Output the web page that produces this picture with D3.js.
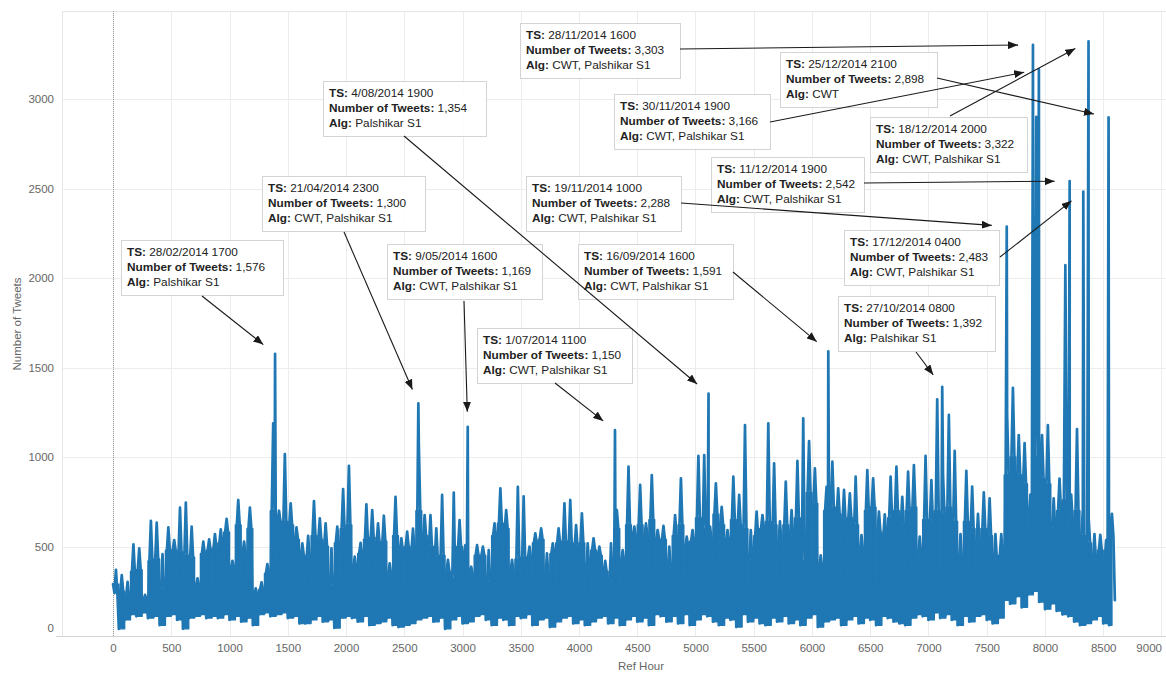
<!DOCTYPE html>
<html>
<head>
<meta charset="utf-8">
<script src="https://cdn.jsdelivr.net/npm/d3@7"></script>
<style>
body { margin: 0; background: #fff; }
svg text { font-family: "Liberation Sans", Arial, Helvetica, sans-serif; white-space: pre; }
</style>
</head>
<body>
<script>
// hourly tweet counts, read per 50-hour block:
// the lowest dip, the top of the dense daily band, and the highest spike
var blockHours = 50;
var blockHigh = [
  369,340,303,512,490,230,644,633,458,607,
  536,717,745,611,322,527,540,570,596,654,
  420,760,527,717,266,300,402,1188,700,1017,
  741,607,518,560,754,657,629,490,611,821,
  950,443,520,736,704,629,672,406,778,546,
  583,600,1073,676,676,601,788,425,801,648,
  508,387,508,499,480,629,825,704,425,834,
  780,499,574,601,462,518,601,741,760,620,
  685,518,546,499,420,518,704,480,946,611,
  844,629,899,592,615,500,676,881,555,592,
  1006,1011,611,853,722,592,890,788,1179,592,
  695,676,1188,965,640,862,704,978,1216,1089,
  937,450,834,974,825,816,797,890,564,927,
  881,695,680,890,946,778,918,955,555,1006,
  871,1322,900,1235,1034,570,923,835,682,802,
  769,570,570,1245,1387,1123,1078,790,2900,1123,
  1178,769,879,2072,790,1156,704,659,570,565,
  536,682
];
var blockTop = [
  240,250,220,360,370,200,420,430,260,480,
  480,470,450,440,280,460,480,490,520,580,
  380,620,460,600,230,260,350,700,640,640,
  620,540,450,440,560,540,500,280,520,600,
  620,380,460,540,550,520,530,340,560,480,
  500,480,700,560,500,440,450,360,320,500,
  460,340,450,450,300,560,630,600,360,430,
  440,440,520,540,330,460,520,530,520,500,
  520,380,480,450,360,300,600,420,620,560,
  620,560,650,540,540,380,560,620,500,530,
  660,600,540,680,620,530,650,620,600,420,
  560,600,640,620,520,620,560,660,420,800,
  740,380,700,720,680,650,660,620,480,700,
  720,580,560,660,700,620,700,720,450,650,
  640,700,680,720,640,420,640,600,520,600,
  560,420,450,900,1000,900,850,680,1000,880,
  850,600,700,760,650,700,560,520,420,480,
  420,560
];
var blockLow = [
  290,40,90,120,110,130,100,110,60,110,
  120,90,40,100,110,120,100,110,100,120,
  90,110,80,100,60,120,130,110,120,130,
  100,110,70,70,90,110,80,90,45,100,
  110,100,80,110,60,70,80,100,60,50,
  60,70,90,100,110,80,100,40,90,110,
  70,80,110,120,90,60,100,90,60,110,
  100,120,60,90,100,50,80,100,110,70,
  90,60,80,100,110,70,100,60,90,110,
  80,100,60,120,110,80,110,70,120,60,
  90,120,110,80,60,100,90,50,120,80,
  100,70,60,100,80,110,70,90,60,100,
  120,50,80,90,100,60,90,110,70,100,
  90,60,110,100,80,70,60,100,120,110,
  90,130,100,120,90,60,110,80,110,120,
  90,70,100,200,180,220,160,230,250,190,
  150,180,140,120,110,80,60,70,90,110,
  70,60,200
];

// detected events (annotated spikes)
var eventTS = ["28/02/2014 1700","21/04/2014 2300","9/05/2014 1600","1/07/2014 1100",
  "4/08/2014 1900","16/09/2014 1600","27/10/2014 0800","19/11/2014 1000",
  "28/11/2014 1600","30/11/2014 1900","11/12/2014 1900","17/12/2014 0400",
  "18/12/2014 2000","25/12/2014 2100"];
var eventHour = [1391,2621,3045,4309,5112,6140,7118,7672,7897,7948,8212,8329,8374,8546];
var eventCount = [1576,1300,1169,1150,1354,1591,1392,2288,3303,3166,2542,2483,3322,2898];
var eventAlg = ["Palshikar S1","CWT, Palshikar S1","CWT, Palshikar S1","CWT, Palshikar S1",
  "Palshikar S1","CWT, Palshikar S1","Palshikar S1","CWT, Palshikar S1",
  "CWT, Palshikar S1","CWT, Palshikar S1","CWT, Palshikar S1","CWT, Palshikar S1",
  "CWT, Palshikar S1","CWT"];

var xTicks = [0,500,1000,1500,2000,2500,3000,3500,4000,4500,5000,5500,6000,6500,7000,7500,8000,8500,9000];
var yTicks = [0,500,1000,1500,2000,2500,3000];

// callout placement: box left, box top, box width, arrow start x, arrow start y
var callout = [
  [121,240,162, 202,296],
  [262,176,163, 344,232],
  [387,244,155, 464,301],
  [477,328,155, 555,383],
  [323,81,163, 404,136],
  [578,244,155, 733,272],
  [838,296,157, 916,352],
  [526,176,155, 681,203],
  [520,23,160, 680,49],
  [614,94,156, 770,122],
  [711,157,153, 864,183],
  [844,230,155, 1000,257],
  [870,117,157, 950,116],
  [780,52,157, 937,78]
];

var W = 1166, H = 673;
var plotL = 62, plotR = 1166, plotT = 11, plotB = 636;
var blue = "#1f77b4";

var svg = d3.select("body").append("svg")
  .attr("width", W)
  .attr("height", H);

var x = d3.scaleLinear().domain([-438, 9039]).range([plotL, plotR]);
var y = d3.scaleLinear().domain([0, 3492]).range([plotB, plotT]);

// grid
svg.append("g").selectAll("line").data(yTicks).enter().append("line")
  .attr("x1", plotL).attr("x2", plotR)
  .attr("y1", function(d){ return Math.round(y(d)) + 0.5; })
  .attr("y2", function(d){ return Math.round(y(d)) + 0.5; })
  .attr("stroke", "#ececec");
svg.append("g").selectAll("line").data(xTicks).enter().append("line")
  .attr("x1", function(d){ return Math.round(x(d)) + 0.5; })
  .attr("x2", function(d){ return Math.round(x(d)) + 0.5; })
  .attr("y1", plotT).attr("y2", plotB)
  .attr("stroke", "#ececec");
svg.append("line")
  .attr("x1", plotL).attr("x2", plotR).attr("y1", plotT + 0.5).attr("y2", plotT + 0.5)
  .attr("stroke", "#e6e6e6");
svg.append("line")
  .attr("x1", plotL + 0.5).attr("x2", plotL + 0.5).attr("y1", plotT).attr("y2", plotB)
  .attr("stroke", "#e6e6e6");
svg.append("line")
  .attr("x1", 56).attr("x2", plotR).attr("y1", plotB + 0.5).attr("y2", plotB + 0.5)
  .attr("stroke", "#d6d6d6");
// zero reference line
svg.append("line")
  .attr("x1", Math.round(x(0)) + 0.5).attr("x2", Math.round(x(0)) + 0.5)
  .attr("y1", plotT).attr("y2", plotB)
  .attr("stroke", "#999").attr("stroke-dasharray", "1,1");

// axes (labels only)
var yAxis = svg.append("g")
  .attr("transform", "translate(" + 54 + ",0)")
  .call(d3.axisLeft(y).tickValues(yTicks).tickSize(0).tickPadding(0).tickFormat(d3.format("d")));
yAxis.select(".domain").remove();
yAxis.selectAll("text")
  .attr("fill", "#666").style("font-size", "11.5px")
  .attr("dy", function(d){ return d === 0 ? "-0.35em" : "0.32em"; });

var xAxis = svg.append("g")
  .attr("transform", "translate(0," + 644 + ")")
  .call(d3.axisBottom(x).tickValues(xTicks).tickSize(0).tickPadding(0).tickFormat(d3.format("d")));
xAxis.select(".domain").remove();
xAxis.selectAll("text").attr("fill", "#666").style("font-size", "11.5px");
// last label is pulled inside the frame
xAxis.selectAll("text").filter(function(d){ return d === xTicks[xTicks.length - 1]; })
  .attr("text-anchor", "end").attr("x", 0);

svg.append("text")
  .attr("transform", "translate(21," + 324 + ") rotate(-90)")
  .attr("text-anchor", "middle")
  .attr("fill", "#666").style("font-size", "11.5px")
  .text("Number of Tweets");
svg.append("text")
  .attr("x", 641).attr("y", 670)
  .attr("text-anchor", "middle")
  .attr("fill", "#666").style("font-size", "11.5px")
  .text("Ref Hour");

// dense part of the hourly line: within each block the values fill low..band top
var band = d3.area()
  .curve(d3.curveStep)
  .x(function(d, i){ return x(i * blockHours + blockHours / 2); })
  .y0(function(d, i){ return y(blockLow[i]); })
  .y1(function(d){ return y(d); });

svg.append("path")
  .datum(blockTop)
  .attr("d", band)
  .attr("fill", blue)
  .attr("stroke", blue)
  .attr("stroke-width", 1.4)
  .attr("stroke-linejoin", "round");

// the line itself: per block dip -> band top -> spike -> band top, plus the annotated spikes
var q = blockHours / 4;
var pts = [];
blockLow.forEach(function(lo, i){
  var h0 = i * blockHours;
  pts.push([h0, lo]);
  if (i < blockHigh.length) {
    pts.push([h0 + q, blockTop[i]]);
    pts.push([h0 + 2 * q, blockHigh[i]]);
    pts.push([h0 + 3 * q, blockTop[i]]);
  }
});
eventHour.forEach(function(h, i){ pts.push([h, eventCount[i]]); });
pts.sort(function(a, b){ return a[0] - b[0]; });

var line = d3.line()
  .x(function(d){ return x(d[0]); })
  .y(function(d){ return y(d[1]); });

svg.append("path")
  .datum(pts)
  .attr("d", line)
  .attr("fill", "none")
  .attr("stroke", blue)
  .attr("stroke-width", 2.7)
  .attr("stroke-linejoin", "round")
  .attr("stroke-linecap", "round");

// callouts
svg.append("defs").append("marker")
  .attr("id", "head")
  .attr("markerUnits", "userSpaceOnUse")
  .attr("markerWidth", 11).attr("markerHeight", 8)
  .attr("refX", 10).attr("refY", 4)
  .attr("orient", "auto")
  .append("path")
  .attr("d", "M0,0 L10,4 L0,8 Z")
  .attr("fill", "#1a1a1a");

var boxes = svg.append("g").selectAll("g")
  .data(eventTS).enter().append("g")
  .attr("transform", function(d, i){ return "translate(" + callout[i][0] + "," + callout[i][1] + ")"; });

boxes.append("rect")
  .attr("x", 0.5).attr("y", 0.5)
  .attr("width", function(d, i){ return callout[i][2]; })
  .attr("height", 55)
  .attr("fill", "#fff").attr("fill-opacity", 0.88)
  .attr("stroke", "#d4d4d4");

function addRow(g, dy, label, valueFn){
  var t = g.append("text")
    .attr("x", 6).attr("y", dy)
    .attr("fill", "#222").style("font-size", "11.8px");
  t.append("tspan").style("font-weight", "bold").text(label);
  t.append("tspan").text(valueFn);
}
addRow(boxes, 16, "TS:", function(d){ return " " + d; });
addRow(boxes, 31, "Number of Tweets:", function(d, i){ return " " + d3.format(",")(eventCount[i]); });
addRow(boxes, 46, "Alg:", function(d, i){ return " " + eventAlg[i]; });

svg.append("g").selectAll("line")
  .data(eventHour).enter().append("line")
  .each(function(h, i){
    var sx = callout[i][3], sy = callout[i][4];
    var px = x(h), py = y(eventCount[i]);
    var dx = px - sx, dy = py - sy, len = Math.sqrt(dx * dx + dy * dy);
    d3.select(this)
      .attr("x1", sx).attr("y1", sy)
      .attr("x2", px - dx / len * 15)
      .attr("y2", py - dy / len * 15);
  })
  .attr("stroke", "#1a1a1a")
  .attr("stroke-width", 1.1)
  .attr("marker-end", "url(#head)");
</script>
</body>
</html>
